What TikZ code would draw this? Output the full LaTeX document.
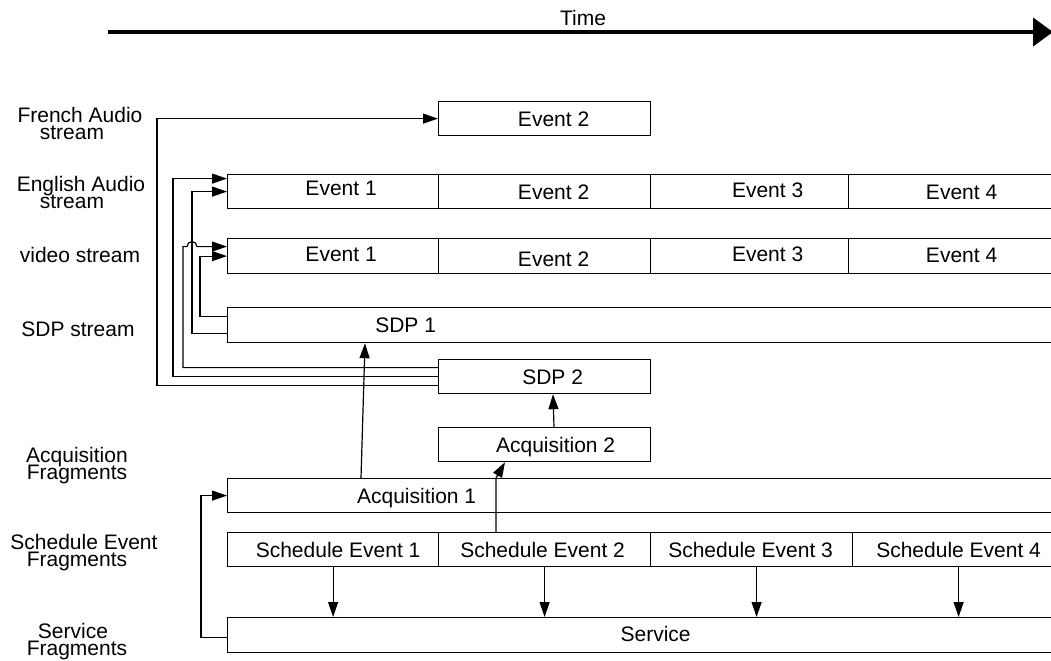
\documentclass[tikz,border=0pt]{standalone}
\usepackage{fontspec}
\setmainfont{Liberation Sans}
\usetikzlibrary{arrows.meta,calc}
\newdimen\pxu \pxu=0.5pt
\newcommand{\tx}[3]{\makebox[0pt]{\hspace*{#1\pxu}\raisebox{#2\pxu}{#3}}}
\newcommand{\tightlines}{\setlength{\lineskiplimit}{-20pt}}
\begin{document}
\begin{tikzpicture}[x=0.5pt,y=-0.5pt,
  every node/.style={font=\fontsize{10.5pt}{8.5pt}\selectfont},
  box/.style={draw, line width=0.6pt, anchor=north west, inner sep=0pt,
    minimum height=17pt, text height=7.5pt, text depth=0pt},
  lbl/.style={align=center, inner sep=0pt, execute at begin node=\tightlines},
  arr/.style={line width=0.6pt, -{Triangle[length=7.5pt,width=5pt]}},
  timearr/.style={line width=2pt, -{Triangle[length=10pt,width=14pt]}}]
\useasboundingbox (0,0) rectangle (1051,660);
\clip (0,0) rectangle (1051,660);

% time axis
\coordinate (t0) at (108,32);
\coordinate (t1) at (1053,32);
\draw[timearr] (t0) -- (t1);
\node (time) at (583,18) {Time};

% left labels
\node[lbl] (lfr) at (80,123.4) {French Audio\\\tx{-16}{0}{stream}};
\node[lbl] (len) at (81,192.4) {English Audio\\\tx{-18}{0}{stream}};
\node[lbl] (lvi) at (80,255.4) {video stream};
\node[lbl] (lsdp) at (78,329.4) {SDP stream};
\node[lbl] (lacq) at (77,466) {Acquisition\\Fragments};
\node[lbl] (lse) at (84,552.5) {Schedule Event\\\tx{-14}{0}{Fragments}};
\node[lbl] (lsv) at (77,641.5) {\tx{-8}{0}{Service}\\Fragments};

% French audio
\node[box, minimum width=106pt] (fr) at (438,101) {\tx{18}{0}{Event 2}};

% English audio
\node[box, minimum width=105.5pt] (en1) at (227,174) {\tx{16}{4}{Event 1}};
\node[box, minimum width=106pt] (en2) at (438,174) {\tx{18}{0}{Event 2}};
\node[box, minimum width=99pt] (en3) at (650,174) {\tx{36}{1.5}{Event 3}};
\node[box, minimum width=111pt] (en4) at (848,174) {\tx{4}{0}{Event 4}};

% video
\node[box, minimum width=105.5pt, minimum height=17.5pt] (vi1) at (227,238) {\tx{16}{2.5}{Event 1}};
\node[box, minimum width=106pt, minimum height=17.5pt] (vi2) at (438,238) {\tx{18}{-2.5}{Event 2}};
\node[box, minimum width=99pt, minimum height=17.5pt] (vi3) at (650,238) {\tx{36}{2}{Event 3}};
\node[box, minimum width=111pt, minimum height=17.5pt] (vi4) at (848,238) {\tx{4}{1}{Event 4}};

% SDP
\node[box, minimum width=425pt, minimum height=17.5pt] (sdp1) at (227,307) {\tx{-494}{0}{SDP 1}};
\node[box, minimum width=106pt] (sdp2) at (438,359) {\tx{16}{0}{SDP 2}};

% acquisition
\node[box, minimum width=106pt] (acq2) at (438,427) {\tx{22}{0}{Acquisition 2}};
\node[box, minimum width=425pt] (acq1) at (227,478) {\tx{-472}{0}{Acquisition 1}};

% schedule events
\node[box, minimum width=105.5pt] (se1) at (227,532) {\tx{10}{0}{Schedule Event 1}};
\node[box, minimum width=106pt] (se2) at (438,532) {\tx{-4}{0}{Schedule Event 2}};
\node[box, minimum width=101pt] (se3) at (650,532) {\tx{-2}{0}{Schedule Event 3}};
\node[box, minimum width=109pt] (se4) at (852,532) {\tx{-6}{0}{Schedule Event 4}};

% service
\node[box, minimum width=425pt, minimum height=17.5pt] (svc) at (227,617) {\tx{6}{1}{Service}};

% SDP2 fan-out
\draw[arr] ($(sdp2.west)+(0,9)$) -- ++(-281,0) |- (fr.west);
\draw[arr] (sdp2.west) -- ++(-265,0) |- ($(en1.west)+(0,-13)$);
\draw[arr] ($(sdp2.west)+(0,-9)$) -- ++(-255,0) -- ++(0,-121) -- ++(4,0)
  arc[start angle=180,end angle=0,radius=2.5pt] -- ($(vi1.west)+(0,-9.5)$);

% SDP1 fan-out
\draw[arr] ($(sdp1.west)+(0,8)$) -- ++(-35,0) |- (en1.west);
\draw[arr] ($(sdp1.west)+(0,-9)$) -- ++(-27,0) |- (vi1.west);

% acquisition links
\draw[arr] ($(acq1.north west)+(134,0)$) -- ($(sdp1.south west)+(138,0)$);
\draw[arr] ($(se2.north west)+(58,0)$) -- ++(0,-54) -- ($(acq2.south west)+(67,0)$);
\draw[arr] ($(acq2.north west)+(116,0)$) -- ($(sdp2.south west)+(115,0)$);

% schedule -> service
\coordinate (s1) at (se1.south);
\coordinate (s2) at (se2.south);
\coordinate (s3) at ($(se3.south)+(5,0)$);
\coordinate (s4) at ($(se4.south)+(-3,0)$);
\draw[arr] (s1) -- (s1 |- svc.north);
\draw[arr] (s2) -- (s2 |- svc.north);
\draw[arr] (s3) -- (s3 |- svc.north);
\draw[arr] (s4) -- (s4 |- svc.north);

% service -> acquisition 1
\draw[arr] ($(svc.west)+(0,2)$) -- ++(-26,0) |- (acq1.west);
\end{tikzpicture}
\end{document}
